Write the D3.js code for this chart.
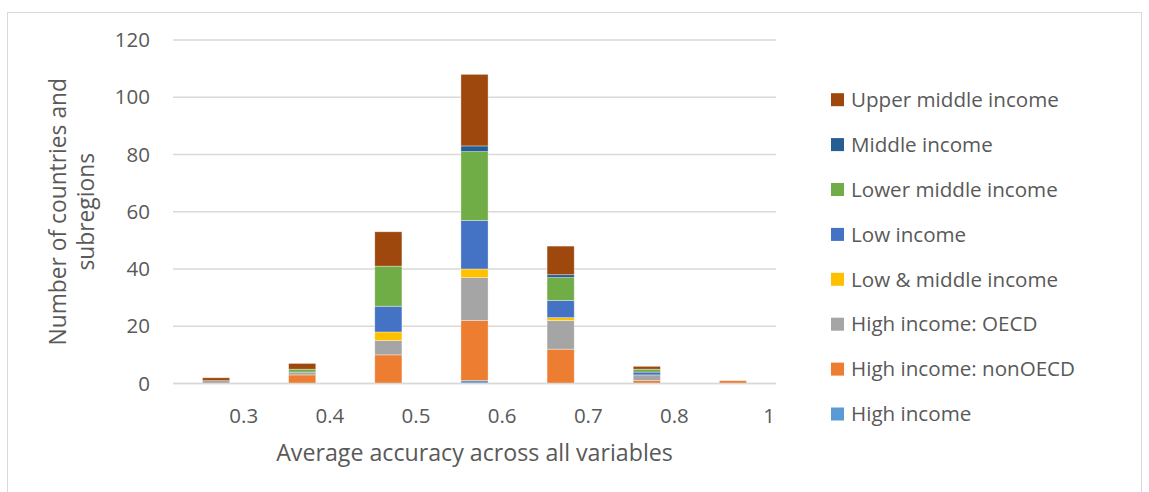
<!DOCTYPE html>
<html>
<head>
<meta charset="utf-8">
<script src="https://cdn.jsdelivr.net/npm/d3@7"></script>
<style>
  html, body { margin: 0; padding: 0; background: #fff; }
  svg { display: block; font-family: "Open Sans", "Noto Sans", sans-serif; }
</style>
</head>
<body>
<svg id="chart" width="1149" height="492"></svg>
<script>
// Accuracy bins on the horizontal axis
const bins = ["0.3", "0.4", "0.5", "0.6", "0.7", "0.8", "1"];

// Counts of countries and subregions per income group, one value per bin
const highIncome        = [0, 0, 0, 1, 0, 0, 0];
const highNonOECD       = [0, 3, 10, 21, 12, 1, 1];
const highOECD          = [1, 1, 5, 15, 10, 2, 0];
const lowAndMiddle      = [0, 0, 3, 3, 1, 0, 0];
const lowIncome         = [0, 0, 9, 17, 6, 1, 0];
const lowerMiddle       = [0, 1, 14, 24, 8, 1, 0];
const middleIncome      = [0, 0, 0, 2, 1, 0, 0];
const upperMiddle       = [1, 2, 12, 25, 10, 1, 0];

// Stack order, bottom to top
const groupNames = [
  "High income", "High income: nonOECD", "High income: OECD",
  "Low & middle income", "Low income", "Lower middle income",
  "Middle income", "Upper middle income"
];
const groupValues = [
  highIncome, highNonOECD, highOECD, lowAndMiddle,
  lowIncome, lowerMiddle, middleIncome, upperMiddle
];
const groupColors = [
  "#5B9BD5", "#ED7D31", "#A5A5A5", "#FFC000",
  "#4472C4", "#70AD47", "#255E91", "#9E480E"
];

const yTicks = [0, 20, 40, 60, 80, 100, 120];

const svg = d3.select("#chart");
const textColor = "#595959";
const gridColor = "#d9d9d9";

// chart frame
svg.append("rect")
  .attr("x", 7.5).attr("y", 12.5)
  .attr("width", 1134).attr("height", 500)
  .attr("fill", "none").attr("stroke", gridColor).attr("stroke-width", 1);

const plot = { left: 173, right: 776, top: 40, bottom: 383.5 };

const x = d3.scaleBand()
  .domain(bins)
  .range([plot.left, plot.right])
  .paddingInner(0.685)
  .paddingOuter(0.3425);

const y = d3.scaleLinear()
  .domain([0, 120])
  .range([plot.bottom, plot.top]);

// horizontal gridlines
svg.append("g").selectAll("line")
  .data(yTicks)
  .join("line")
  .attr("x1", plot.left).attr("x2", plot.right)
  .attr("y1", d => y(d)).attr("y2", d => y(d))
  .attr("stroke", gridColor).attr("stroke-width", 1.3);

// y tick labels
svg.append("g").selectAll("text")
  .data(yTicks)
  .join("text")
  .attr("x", 150).attr("y", d => y(d))
  .attr("dy", "0.35em")
  .attr("text-anchor", "end")
  .attr("fill", textColor)
  .style("font-size", "20.5px")
  .text(d => d);

// stacked bars
const table = bins.map((b, i) => {
  const row = { bin: b };
  groupNames.forEach((g, k) => { row[g] = groupValues[k][i]; });
  return row;
});
const stacked = d3.stack().keys(groupNames)(table);

svg.append("g").selectAll("g")
  .data(stacked)
  .join("g")
  .attr("fill", (d, k) => groupColors[k])
  .selectAll("rect")
  .data(d => d.filter(s => s[1] > s[0]))
  .join("rect")
  .attr("x", d => x(d.data.bin))
  .attr("width", x.bandwidth())
  .attr("y", d => y(d[1]))
  .attr("height", d => y(d[0]) - y(d[1]))
  .attr("stroke", "#fff").attr("stroke-opacity", 0.5).attr("stroke-width", 0.7);

// baseline
svg.append("line")
  .attr("x1", plot.left).attr("x2", plot.right)
  .attr("y1", y(0)).attr("y2", y(0))
  .attr("stroke", gridColor).attr("stroke-width", 1.5);

// x tick labels, right-aligned to each bin's edge
const step = x.step();
svg.append("g").selectAll("text")
  .data(bins)
  .join("text")
  .attr("x", d => x(d) + x.bandwidth() / 2 + step / 2 - 1)
  .attr("y", 423)
  .attr("text-anchor", "end")
  .attr("fill", textColor)
  .style("font-size", "20.5px")
  .text(d => d);

// axis titles
svg.append("text")
  .attr("x", (plot.left + plot.right) / 2)
  .attr("y", 461)
  .attr("text-anchor", "middle")
  .attr("fill", textColor)
  .style("font-size", "23.2px")
  .text("Average accuracy across all variables");

const yTitle = svg.append("text")
  .attr("transform", `translate(0, ${(plot.top + plot.bottom) / 2}) rotate(-90)`)
  .attr("text-anchor", "middle")
  .attr("fill", textColor)
  .style("font-size", "22.8px");
yTitle.append("tspan").attr("x", 0).attr("y", 66).text("Number of countries and");
yTitle.append("tspan").attr("x", 0).attr("y", 94).text("subregions");

// legend, top to bottom in reverse stack order
const legendItems = groupNames.map((g, k) => ({ name: g, color: groupColors[k] })).reverse();
const legend = svg.append("g").selectAll("g")
  .data(legendItems)
  .join("g")
  .attr("transform", (d, i) => `translate(831, ${99.7 + i * 44.9})`);
legend.append("rect")
  .attr("x", 0).attr("y", -6.5)
  .attr("width", 13).attr("height", 13)
  .attr("fill", d => d.color);
legend.append("text")
  .attr("x", 20).attr("y", 0)
  .attr("dy", "0.35em")
  .attr("fill", textColor)
  .style("font-size", "20.6px")
  .text(d => d.name);
</script>
</body>
</html>
